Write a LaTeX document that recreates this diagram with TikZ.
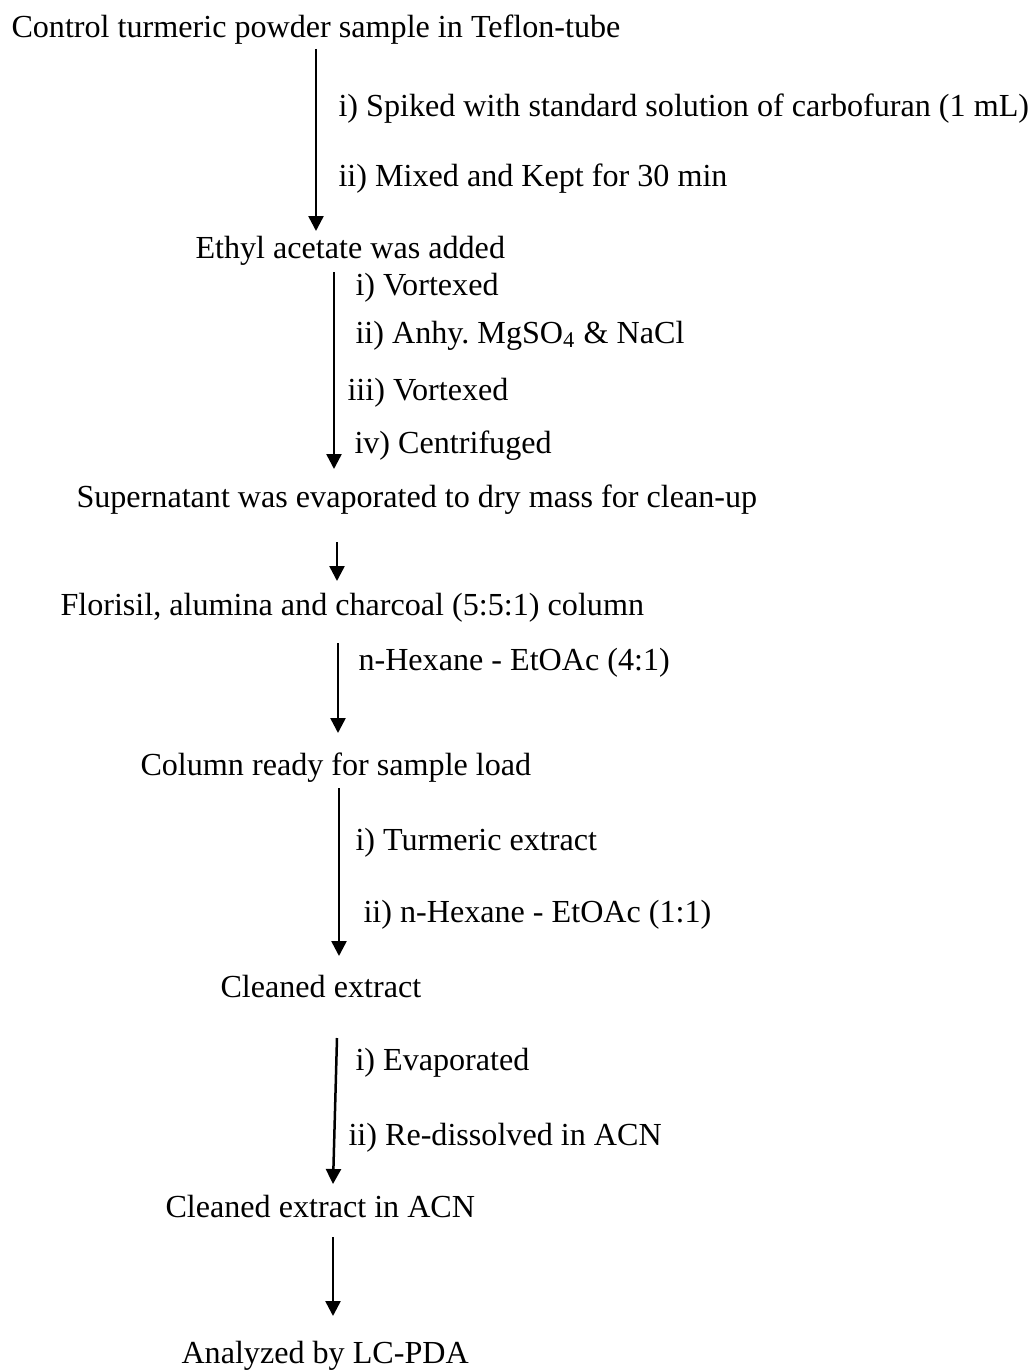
\documentclass[tikz,border=0pt]{standalone}
\usepackage{fontspec}
\setmainfont{Liberation Serif}
\usepackage{tikz}
\usetikzlibrary{arrows.meta,positioning,calc}
\tikzstyle{ptext}  = [anchor=base west, inner sep=0pt,
                      font=\fontsize{12.85}{15}\selectfont]
\tikzstyle{Bstage} = [ptext]
\tikzstyle{Bcond}  = [ptext]
\tikzstyle{flow}   = [-{Triangle[length=6pt,width=6pt]}, line width=1pt]

\begin{document}
\begin{tikzpicture}[x=0.4pt, y=-0.4pt]
  \useasboundingbox (0,0) rectangle (1031,1372);
  % stages
  \node[Bstage] (ctrl)  at (11,38)    {Control turmeric powder sample in Teflon-tube};
  \node[Bstage] (ethyl) at (195,258)  {Ethyl acetate was added};
  \node[Bstage] (super) at (76,507)   {Supernatant was evaporated to dry mass for clean-up};
  \node[Bstage] (flori) at (60,615)   {Florisil, alumina and charcoal (5:5:1) column};
  \node[Bstage] (ready) at (140,775)  {Column ready for sample load};
  \node[Bstage] (clean) at (220,997)  {Cleaned extract};
  \node[Bstage] (inacn) at (165,1217) {Cleaned extract in ACN};
  \node[Bstage] (lcpda) at (181,1363) {Analyzed by LC-PDA};
  % conditions
  \node[Bcond] (spike) at (338,117)  {i) Spiked with standard solution of carbofuran (1 mL)};
  \node[Bcond] (mixed) at (338,186)  {ii) Mixed and Kept for 30 min};
  \node[Bcond] (vort1) at (355,295)  {i) Vortexed};
  \node[Bcond] (salts) at (355,343)  {ii) Anhy.\ MgSO\textsubscript{4} \& NaCl};
  \node[Bcond] (vort2) at (347,400)  {iii) Vortexed};
  \node[Bcond] (centr) at (354,453)  {iv) Centrifuged};
  \node[Bcond] (elut1) at (358,670)  {n-Hexane - EtOAc (4:1)};
  \node[Bcond] (extr)  at (355,850)  {i) Turmeric extract};
  \node[Bcond] (elut2) at (363,922)  {ii) n-Hexane - EtOAc (1:1)};
  \node[Bcond] (evap)  at (355,1070) {i) Evaporated};
  \node[Bcond] (redis) at (348,1145) {ii) Re-dissolved in ACN};
  % arrows
  \coordinate (a1) at (316,49);   \coordinate (b1) at (316,231);
  \coordinate (a2) at (334,272);  \coordinate (b2) at (334,469);
  \coordinate (a3) at (337,542);  \coordinate (b3) at (337,581);
  \coordinate (a4) at (338,643);  \coordinate (b4) at (338,733);
  \coordinate (a5) at (339,788);  \coordinate (b5) at (339,956);
  \coordinate (a6) at (337,1038); \coordinate (b6) at (333,1184);
  \coordinate (a7) at (333,1237); \coordinate (b7) at (333,1316);
  \foreach \i in {1,...,7}
    \draw[flow] (a\i) -- (b\i);
\end{tikzpicture}
\end{document}
